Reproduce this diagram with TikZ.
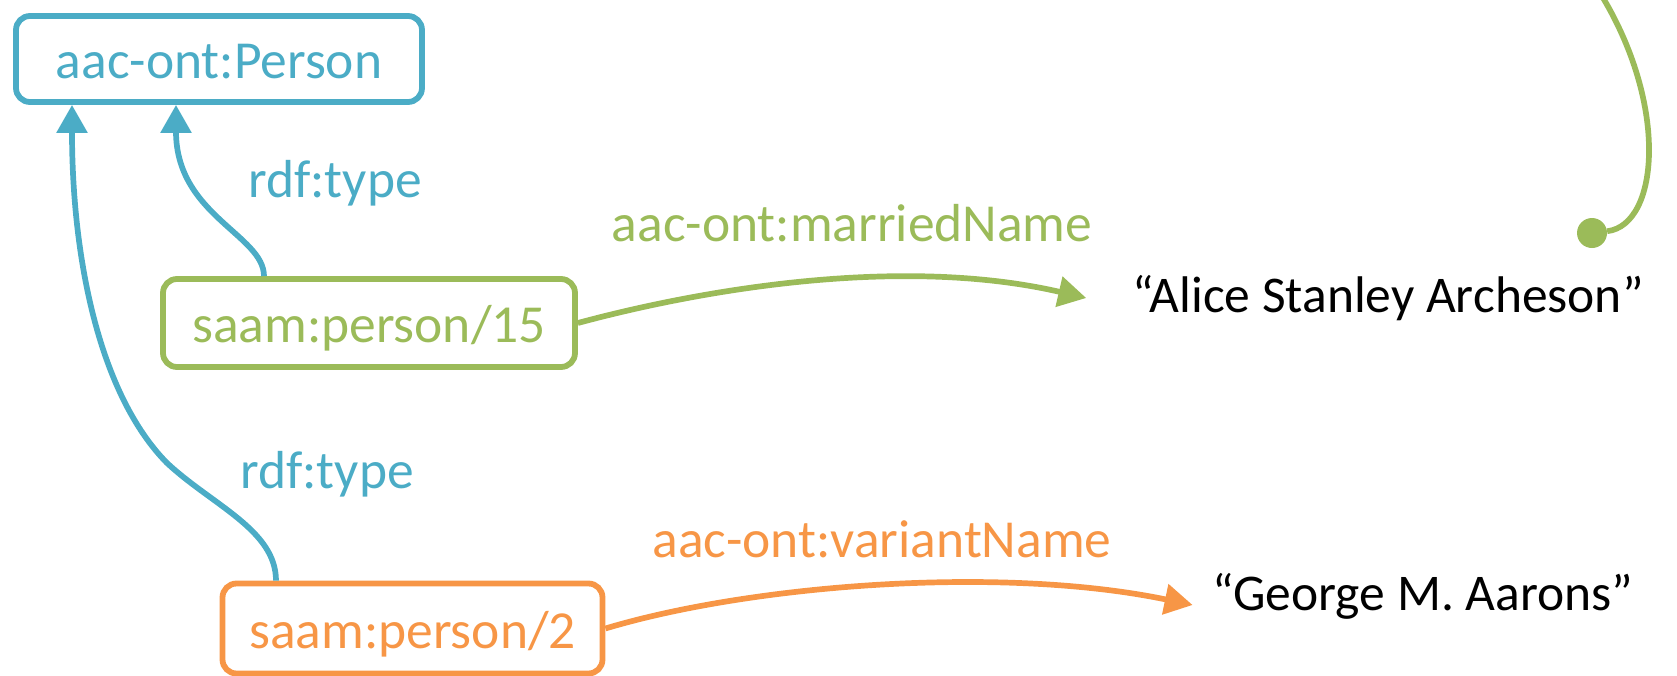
\documentclass[tikz,border=0pt]{standalone}
\usepackage{fontspec}
\setmainfont{Carlito}
\usetikzlibrary{arrows.meta,calc}
\definecolor{cblue}{HTML}{4BACC6}
\definecolor{cgreen}{HTML}{9BBB59}
\definecolor{corange}{HTML}{F79646}
\begin{document}
\begin{tikzpicture}[x=1pt,y=-1pt,
  box/.style={draw, line width=5.8pt, rounded corners=14pt, inner sep=0pt,
    text height=40pt, text depth=1pt, font=\fontsize{53.5}{64}\selectfont},
  lbl/.style={anchor=base, inner sep=0pt, font=\fontsize{53.5}{64}\selectfont},
  lit/.style={anchor=base, inner sep=0pt, font=\fontsize{51.5}{62}\selectfont},
  conn/.style={line width=5.7pt, -{Triangle[length=28pt,width=30pt]}},
]
\useasboundingbox (0,0) rectangle (1677,675);

\node[box, cblue, minimum width=406pt, minimum height=86pt] (person) at (219,59) {aac-ont:Person};
\node[box, cgreen, minimum width=412pt, minimum height=88pt] (p15) at (369,323) {saam:person/15};
\node[box, corange, minimum width=380pt, minimum height=90pt] (p2) at (412.5,628.5) {saam:person/2};

\node[lbl, cblue] (rdf1) at (335,197) {rdf:type};
\node[lbl, cblue] (rdf2) at (327,488) {rdf:type};
\node[lbl, cgreen] (married) at (852,241) {aac-ont:marriedName};
\node[lbl, corange] (variant) at (882,557) {aac-ont:variantName};
\node[lit] (alice) at (1388,312) {“Alice Stanley Archeson”};
\node[lit] (george) at (1423,610) {“George M. Aarons”};

\coordinate (s1) at (276,0);
\coordinate (t1) at (72,0);
\coordinate (s2) at (264,0);
\coordinate (t2) at (176,0);

\draw[conn, cblue] (s1 |- p2.north) .. controls (276,530) and (212,505) .. (167,463)
  .. controls (100,395) and (72,260) .. (t1 |- person.south);
\draw[conn, cblue] (s2 |- p15.north) .. controls (264,235) and (176,215) .. (t2 |- person.south);

\draw[conn, cgreen] (p15.east) .. controls (700,290) and (900,255) .. ($(alice.base west)+(-46,-14)$);
\draw[conn, corange] (p2.east) .. controls (750,585) and (1000,565) .. ($(george.base west)+(-20,-5)$);

\node[circle, fill=cgreen, minimum size=30pt, inner sep=0pt] (dot) at (1592,233) {};
\coordinate (gtop) at (1595,-15);
\draw[cgreen, line width=5.7pt] (dot) .. controls (1660,225) and (1670,100) .. (gtop);
\end{tikzpicture}
\end{document}
